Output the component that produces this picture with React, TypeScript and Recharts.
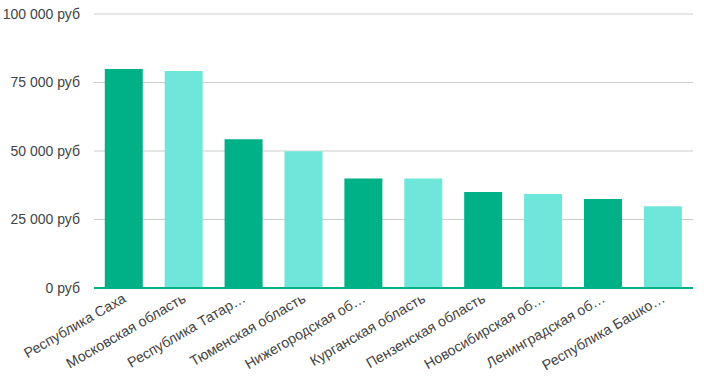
import { BarChart, Bar, XAxis, YAxis, CartesianGrid, Cell, ReferenceLine } from "recharts"

const regions = [
  "Республика Саха",
  "Московская область",
  "Республика Татар…",
  "Тюменская область",
  "Нижегородская об…",
  "Курганская область",
  "Пензенская область",
  "Новосибирская об…",
  "Ленинградская об…",
  "Республика Башко…",
]

const salaries = [79900, 79200, 54300, 49900, 40000, 40000, 35000, 34300, 32500, 29800]

const yTicks = [0, 25000, 50000, 75000, 100000]

const barColors = ["#00b086", "#6ee7da"]
const textColor = "#444444"
const font = "Arial, 'Liberation Sans', sans-serif"

const chartData = regions.map((name, i) => ({ name, value: salaries[i] }))

const formatRub = (v: number) => {
  const s = String(v).replace(/\B(?=(\d{3})+(?!\d))/g, " ")
  return `${s} руб`
}

const RotatedTick = ({ x, y, payload }: any) => (
  <g transform={`translate(${x},${y})`}>
    <text
      x={0}
      y={0}
      dy={6}
      textAnchor="end"
      fill={textColor}
      fontSize={14.3}
      fontFamily={font}
      transform="rotate(-30)"
    >
      {payload.value}
    </text>
  </g>
)

const App = () => {
  return (
    <div style={{ position: "absolute", left: 0, top: 0, width: 704, height: 376, background: "#fff" }}>
      <BarChart
        width={704}
        height={376}
        data={chartData}
        margin={{ top: 14, right: 11, left: 0, bottom: 0 }}
        barCategoryGap="18%"
      >
        <CartesianGrid vertical={false} stroke="#cccccc" />
        <XAxis
          dataKey="name"
          interval={0}
          axisLine={false}
          tickLine={false}
          height={88}
          tick={<RotatedTick />}
        />
        <YAxis
          width={94}
          domain={[0, 100000]}
          ticks={yTicks}
          axisLine={false}
          tickLine={false}
          tickMargin={8}
          tickFormatter={formatRub}
          tick={{ fill: textColor, fontSize: 14, fontFamily: font }}
        />
        <Bar dataKey="value" isAnimationActive={false}>
          {chartData.map((d, i) => (
            <Cell key={d.name} fill={barColors[i % 2]} />
          ))}
        </Bar>
        <ReferenceLine y={0} stroke="#00b086" strokeWidth={2} />
      </BarChart>
    </div>
  )
}

export default App
